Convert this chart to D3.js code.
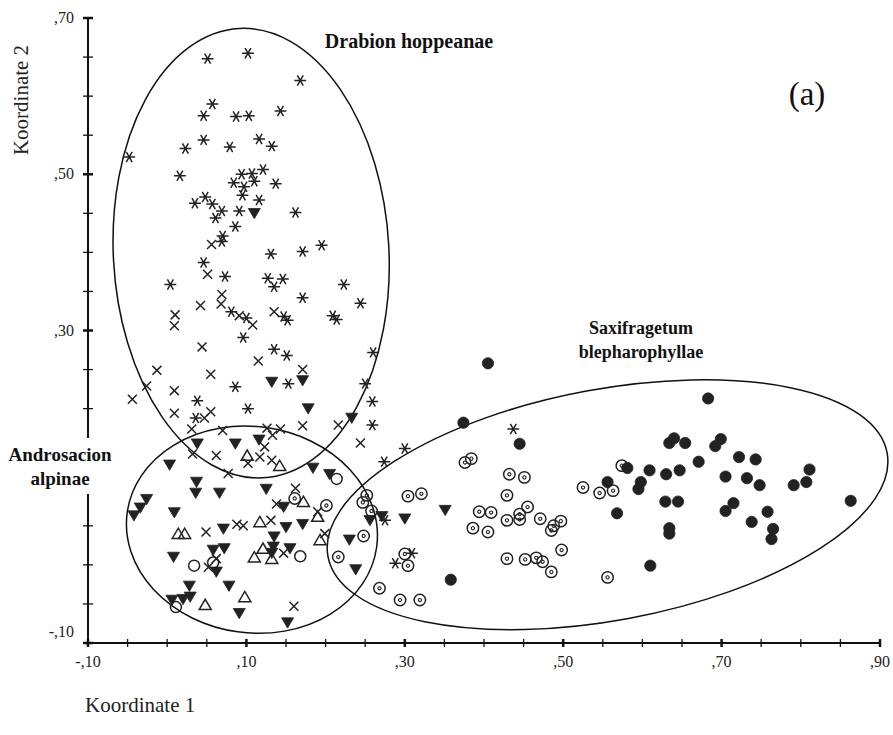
<!DOCTYPE html>
<html>
<head>
<meta charset="utf-8">
<script src="https://cdn.jsdelivr.net/npm/d3@7"></script>
<style>
  body { margin: 0; background: #fff; }
  svg { display: block; }
</style>
</head>
<body>
<div id="chart"></div>
<script>
// MDS ordination plot (Koordinate 1 / Koordinate 2) with three vegetation clusters

const width = 893;
const height = 735;

// axis ticks
const xLabelTicks = [-0.10, 0.10, 0.30, 0.50, 0.70, 0.90];
const yLabelTicks = [-0.10, 0.30, 0.50, 0.70];

// relevés, one array per marker type: [Koordinate 1, Koordinate 2]
const stars = [
  [0.051,0.648],[0.102,0.655],[0.168,0.620],[0.057,0.590],[0.046,0.575],[0.087,0.574],[0.103,0.575],
  [0.143,0.581],[0.046,0.544],[0.023,0.533],[0.079,0.535],[0.116,0.545],[0.132,0.536],[-0.048,0.522],
  [0.016,0.498],[0.094,0.500],[0.107,0.501],[0.121,0.506],[0.084,0.489],[0.097,0.484],[0.110,0.491],
  [0.137,0.488],[0.095,0.473],[0.048,0.471],[0.035,0.463],[0.057,0.462],[0.069,0.453],[0.091,0.453],
  [0.116,0.467],[0.061,0.444],[0.086,0.433],[0.070,0.421],[0.069,0.414],[0.162,0.451],[0.131,0.398],
  [0.171,0.401],[0.195,0.409],[0.046,0.387],[0.073,0.369],[0.004,0.359],[0.127,0.367],[0.146,0.366],
  [0.135,0.356],[0.223,0.359],[0.171,0.342],[0.244,0.335],[0.081,0.324],[0.147,0.318],[0.152,0.313],
  [0.209,0.319],[0.214,0.314],[0.100,0.316],[0.096,0.291],[0.135,0.276],[0.151,0.268],[0.260,0.272],
  [0.153,0.232],[0.250,0.232],[0.086,0.228],[0.259,0.209],[0.102,0.200],[0.259,0.179],[0.038,0.210],
  [0.036,0.188],[0.274,0.132],[0.275,0.057],[0.288,0.002],[0.309,0.015],[0.300,0.149],[0.437,0.174]
];

const crosses = [
  [0.056,0.410],[0.051,0.372],[0.069,0.346],[0.042,0.332],[0.068,0.334],[0.010,0.320],[0.009,0.306],
  [0.091,0.319],[0.108,0.307],[0.135,0.324],[0.044,0.279],[0.115,0.261],[-0.013,0.249],[0.055,0.244],
  [-0.026,0.229],[0.171,0.250],[0.009,0.223],[-0.044,0.212],[0.009,0.194],[0.055,0.196],[0.047,0.188],
  [0.031,0.174],[0.070,0.172],[0.171,0.178],[0.216,0.179],[0.126,0.175],[0.143,0.174],[0.133,0.166],
  [0.032,0.142],[0.062,0.140],[0.123,0.151],[0.244,0.156],[0.117,0.138],[0.102,0.130],[0.132,0.134],
  [0.077,0.117],[0.162,0.098],[0.138,0.078],[0.190,0.068],[0.049,0.042],[0.088,0.052],[0.096,0.050],
  [0.131,0.057],[0.199,0.040],[0.147,0.015],[0.062,0.008],[0.052,-0.003],[0.160,-0.053]
];

const filledTriangles = [
  [0.110,0.450],[0.132,0.234],[0.171,0.236],[0.178,0.200],[0.233,0.188],[0.038,0.155],[0.086,0.155],
  [0.116,0.160],[0.003,0.128],[0.184,0.124],[0.037,0.106],[0.036,0.092],[0.066,0.092],[-0.026,0.084],
  [-0.034,0.073],[-0.042,0.063],[0.009,0.067],[0.071,0.046],[0.008,0.010],[0.058,0.019],[0.072,0.021],
  [0.062,-0.009],[0.028,-0.027],[0.078,-0.027],[0.029,-0.041],[0.020,-0.044],[0.006,-0.045],[0.091,-0.062],
  [0.205,0.116],[0.125,0.097],[0.147,0.074],[0.256,0.057],[0.271,0.062],[0.150,0.048],[0.171,0.052],
  [0.135,0.036],[0.230,0.032],[0.134,0.023],[0.132,0.015],[0.155,0.021],[0.238,-0.006],[0.152,-0.074],
  [0.300,0.059],[0.351,0.070]
];

const openTriangles = [
  [0.101,0.140],[0.142,0.127],[0.172,0.081],[0.190,0.062],[0.117,0.055],[0.014,0.040],[0.022,0.040],
  [0.193,0.032],[0.121,0.021],[0.110,0.010],[0.132,0.008],[0.098,-0.041],[0.048,-0.051]
];

const openCircles = [
  [0.214,0.110],[0.034,-0.001],[0.058,0.003],[0.011,-0.054],[0.168,0.011]
];

const dottedCircles = [
  [0.161,0.085],[0.201,0.076],[0.252,0.089],[0.247,0.080],[0.258,0.069],[0.248,0.037],[0.216,0.010],
  [0.268,-0.030],[0.294,-0.045],[0.319,-0.045],[0.376,0.131],[0.384,0.136],[0.432,0.116],[0.451,0.112],
  [0.525,0.099],[0.546,0.092],[0.563,0.095],[0.574,0.127],[0.304,0.088],[0.321,0.091],[0.429,0.089],
  [0.394,0.068],[0.409,0.067],[0.455,0.074],[0.445,0.065],[0.445,0.058],[0.429,0.057],[0.471,0.059],
  [0.386,0.047],[0.405,0.042],[0.497,0.056],[0.488,0.050],[0.485,0.044],[0.498,0.019],[0.300,0.014],
  [0.304,-0.001],[0.429,0.008],[0.452,0.007],[0.466,0.009],[0.474,0.004],[0.485,-0.009],[0.556,-0.016]
];

const filledCircles = [
  [0.405,0.258],[0.374,0.182],[0.445,0.155],[0.358,-0.019],[0.683,0.213],[0.640,0.162],[0.634,0.156],
  [0.654,0.156],[0.699,0.161],[0.692,0.152],[0.671,0.132],[0.722,0.138],[0.743,0.135],[0.581,0.124],
  [0.609,0.121],[0.630,0.116],[0.647,0.121],[0.811,0.122],[0.556,0.106],[0.598,0.106],[0.595,0.097],
  [0.705,0.113],[0.732,0.111],[0.748,0.102],[0.791,0.102],[0.807,0.106],[0.568,0.066],[0.629,0.081],
  [0.645,0.081],[0.715,0.079],[0.705,0.069],[0.758,0.068],[0.738,0.055],[0.863,0.082],[0.634,0.047],
  [0.634,0.040],[0.765,0.046],[0.763,0.033],[0.610,-0.001]
];

// cluster outlines in data units: centre, radii, tilt (degrees)
const clusterNames = ['Drabion hoppeanae', 'Androsacion alpinae', 'Saxifragetum blepharophyllae'];
const clusterCx = [0.106, 0.107, 0.556];
const clusterCy = [0.399, 0.045, 0.077];
const clusterRx = [0.174, 0.159, 0.359];
const clusterRy = [0.288, 0.132, 0.148];
const clusterTilt = [-3, 8, -10.5];

// scales
const x = d3.scaleLinear().domain([-0.10, 0.90]).range([88, 880]);
const y = d3.scaleLinear().domain([-0.10, 0.70]).range([643, 18]);

// SPSS style labels: ",30" and "-,10"
const fmt = v => d3.format('.2f')(v).replace('\u2212', '-').replace('0.', ',');

const ink = '#222';
const serif = '"Liberation Serif", "Times New Roman", serif';

// custom marker shapes (size ~ area, like d3.symbol)
const asterisk = {
  draw(ctx, size) {
    const r = Math.sqrt(size) / 2;
    for (let a = 0; a < 180; a += 60) {
      const t = a * Math.PI / 180;
      ctx.moveTo(-r * Math.cos(t), -r * Math.sin(t));
      ctx.lineTo(r * Math.cos(t), r * Math.sin(t));
    }
  }
};
const cross = {
  draw(ctx, size) {
    const r = Math.sqrt(size) / 2;
    ctx.moveTo(-r, -r); ctx.lineTo(r, r);
    ctx.moveTo(-r, r); ctx.lineTo(r, -r);
  }
};
const triDown = {
  draw(ctx, size) {
    const r = Math.sqrt(size) / 2;
    ctx.moveTo(-r, -r * 0.8); ctx.lineTo(r, -r * 0.8); ctx.lineTo(0, r * 0.9); ctx.closePath();
  }
};
const triUp = {
  draw(ctx, size) {
    const r = Math.sqrt(size) / 2;
    ctx.moveTo(-r, r * 0.8); ctx.lineTo(r, r * 0.8); ctx.lineTo(0, -r * 0.9); ctx.closePath();
  }
};

const svg = d3.select('#chart').append('svg')
  .attr('width', width)
  .attr('height', height);

// cluster ellipses
const clusters = clusterNames.map((name, i) => ({
  name, cx: clusterCx[i], cy: clusterCy[i], rx: clusterRx[i], ry: clusterRy[i], tilt: clusterTilt[i]
}));

svg.append('g')
  .selectAll('ellipse')
  .data(clusters)
  .enter()
  .append('ellipse')
  .attr('cx', d => x(d.cx))
  .attr('cy', d => y(d.cy))
  .attr('rx', d => x(d.rx) - x(0))
  .attr('ry', d => y(0) - y(d.ry))
  .attr('transform', d => `rotate(${d.tilt},${x(d.cx)},${y(d.cy)})`)
  .attr('fill', 'none')
  .attr('stroke', '#111')
  .attr('stroke-width', 1.5);

// axes: line + crossing ticks every 0.05
const axisG = svg.append('g').attr('stroke', '#111');
axisG.append('line')
  .attr('x1', x(-0.10)).attr('x2', x(0.90))
  .attr('y1', y(-0.10)).attr('y2', y(-0.10))
  .attr('stroke-width', 2);
axisG.append('line')
  .attr('x1', x(-0.10)).attr('x2', x(-0.10))
  .attr('y1', y(-0.10)).attr('y2', y(0.70))
  .attr('stroke-width', 2);

const xMinor = d3.range(-0.10, 0.9001, 0.05);
const yMinor = d3.range(-0.10, 0.7001, 0.05);

axisG.selectAll('.xt')
  .data(xMinor)
  .enter()
  .append('line')
  .attr('x1', d => x(d)).attr('x2', d => x(d))
  .attr('y1', y(-0.10) - 4).attr('y2', y(-0.10) + 4)
  .attr('stroke-width', d => Math.abs(Math.round(d * 100) % 20) === 10 ? 2.5 : 1.3);

axisG.selectAll('.yt')
  .data(yMinor)
  .enter()
  .append('line')
  .attr('y1', d => y(d)).attr('y2', d => y(d))
  .attr('x1', x(-0.10) - 5).attr('x2', x(-0.10) + 5)
  .attr('stroke-width', d => Math.abs(Math.round(d * 100) % 20) === 10 ? 2.5 : 1.3);

// tick labels
svg.append('g')
  .selectAll('text')
  .data(xLabelTicks)
  .enter()
  .append('text')
  .attr('x', d => x(d))
  .attr('y', y(-0.10) + 24)
  .attr('text-anchor', 'middle')
  .attr('font-family', serif)
  .attr('font-size', 16)
  .attr('fill', ink)
  .text(fmt);

svg.append('g')
  .selectAll('text')
  .data(yLabelTicks)
  .enter()
  .append('text')
  .attr('x', x(-0.10) - 14)
  .attr('y', d => y(d) + (d === -0.10 ? -6 : 5))
  .attr('text-anchor', 'end')
  .attr('font-family', serif)
  .attr('font-size', 16)
  .attr('fill', ink)
  .text(fmt);

// axis titles
svg.append('text')
  .attr('transform', 'translate(28,100) rotate(-90)')
  .attr('text-anchor', 'middle')
  .attr('font-family', serif)
  .attr('font-size', 21)
  .attr('fill', ink)
  .text('Koordinate 2');

svg.append('text')
  .attr('x', 85)
  .attr('y', 712)
  .attr('font-family', serif)
  .attr('font-size', 21)
  .attr('fill', ink)
  .text('Koordinate 1');

// markers
function drawMarkers(data, type, size, filled) {
  svg.append('g')
    .selectAll('path')
    .data(data)
    .enter()
    .append('path')
    .attr('transform', d => `translate(${x(d[0])},${y(d[1])})`)
    .attr('d', d3.symbol().type(type).size(size))
    .attr('fill', filled ? ink : 'none')
    .attr('stroke', ink)
    .attr('stroke-width', filled ? 0.8 : 1.5);
}

drawMarkers(stars, asterisk, 140, false);
drawMarkers(crosses, cross, 80, false);
drawMarkers(filledTriangles, triDown, 145, true);
drawMarkers(openTriangles, triUp, 145, false);
drawMarkers(openCircles, d3.symbolCircle, 95, false);
drawMarkers(filledCircles, d3.symbolCircle, 100, true);

// circled dots
const dots = svg.append('g')
  .selectAll('g')
  .data(dottedCircles)
  .enter()
  .append('g')
  .attr('transform', d => `translate(${x(d[0])},${y(d[1])})`);
dots.append('circle').attr('r', 5.7).attr('fill', 'none').attr('stroke', ink).attr('stroke-width', 1.5);
dots.append('circle').attr('r', 1.6).attr('fill', 'none').attr('stroke', ink).attr('stroke-width', 1.1);

// white patch hides the axis behind the Androsacion label
svg.append('rect')
  .attr('x', 0).attr('y', 438).attr('width', 120).attr('height', 56)
  .attr('fill', '#fff');

// cluster labels
const labelG = svg.append('g')
  .attr('font-family', serif)
  .attr('font-weight', 'bold')
  .attr('font-size', 18)
  .attr('fill', '#111')
  .attr('text-anchor', 'middle');

labelG.append('text').attr('x', 409).attr('y', 48).attr('font-size', 20).text('Drabion hoppeanae');
labelG.append('text').attr('x', 641).attr('y', 334).text('Saxifragetum');
labelG.append('text').attr('x', 641).attr('y', 358).text('blepharophyllae');
labelG.append('text').attr('x', 60).attr('y', 461).attr('font-size', 19).text('Androsacion');
labelG.append('text').attr('x', 60).attr('y', 485).attr('font-size', 19).text('alpinae');

svg.append('text')
  .attr('x', 807)
  .attr('y', 105)
  .attr('text-anchor', 'middle')
  .attr('font-family', serif)
  .attr('font-size', 33)
  .attr('fill', '#111')
  .text('(a)');
</script>
</body>
</html>
